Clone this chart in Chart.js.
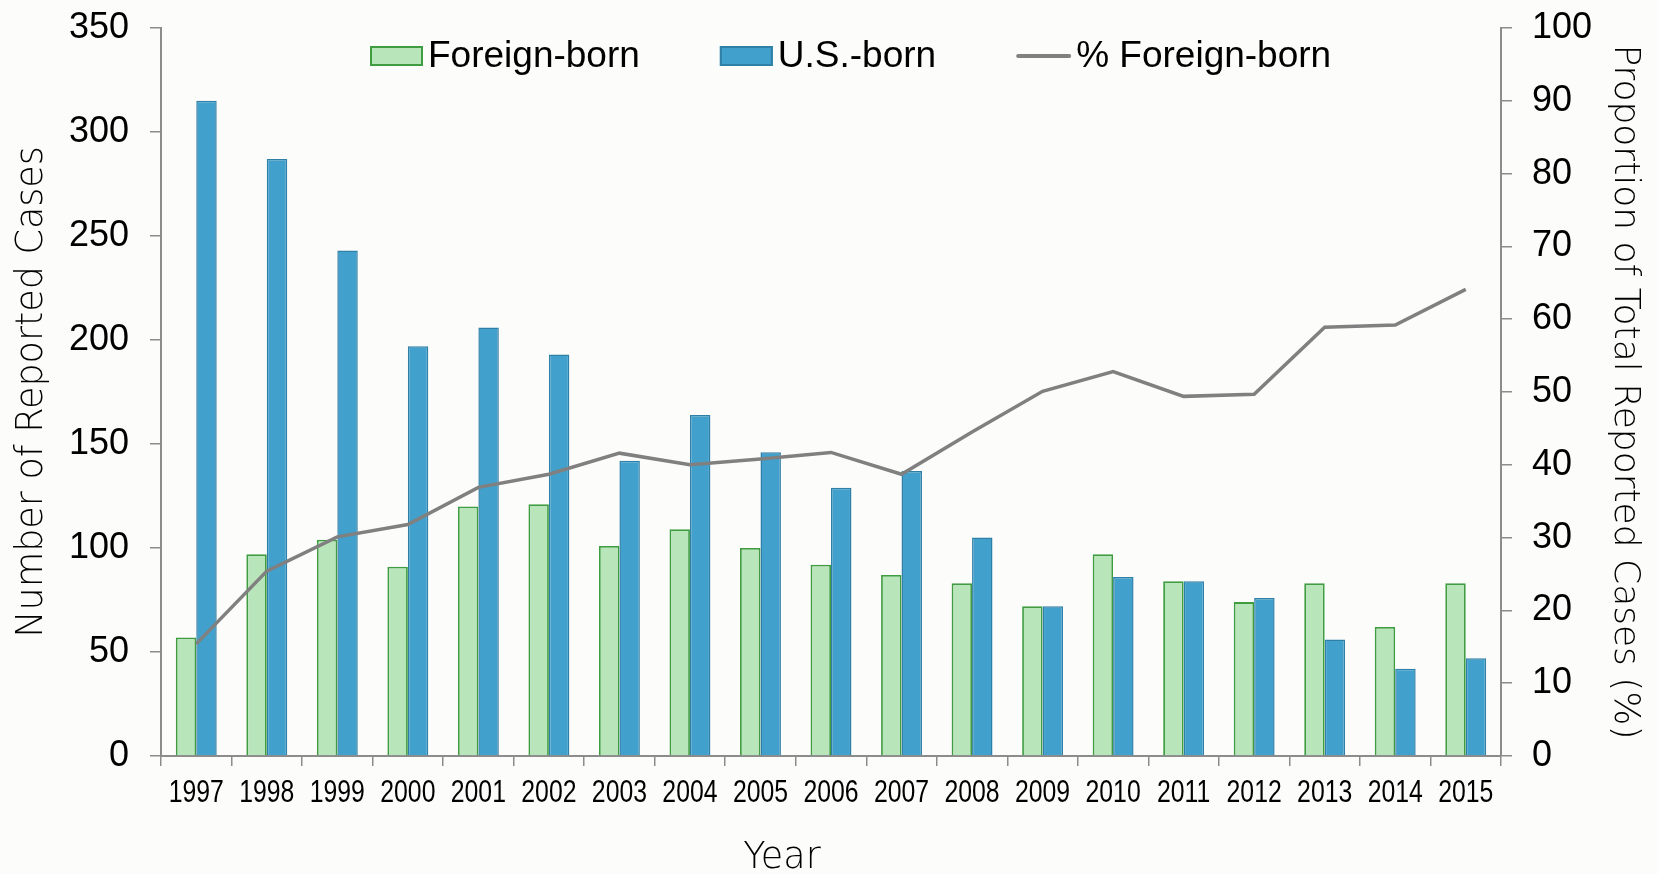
<!DOCTYPE html>
<html>
<head>
<meta charset="utf-8">
<title>Reported Cases by Origin</title>
<script src="https://cdn.jsdelivr.net/npm/chart.js@4.4.1/dist/chart.umd.min.js"></script>
<style>
    html, body { margin: 0; padding: 0; background: #fcfcfb; }
    #wrap { width: 1658px; height: 874px; position: relative; }
</style>
</head>
<body>
<div id="wrap"><canvas id="casesChart"></canvas></div>
<script>
// Chart data
const years = ['1997', '1998', '1999', '2000', '2001', '2002', '2003', '2004', '2005', '2006',
               '2007', '2008', '2009', '2010', '2011', '2012', '2013', '2014', '2015'];
const foreignBorn = [57, 97, 104, 91, 120, 121, 101, 109, 100, 92, 87, 83, 72, 97, 84, 74, 83, 62, 83];
const usBorn = [315, 287, 243, 197, 206, 193, 142, 164, 146, 129, 137, 105, 72, 86, 84, 76, 56, 42, 47];
const pctForeign = [15.4, 25.4, 30.1, 31.8, 36.9, 38.7, 41.6, 40.0, 40.8, 41.7, 38.7, 44.5, 50.1, 52.8, 49.4, 49.7, 58.9, 59.2, 64.1];
const casesTicks = { min: 0, max: 350, step: 50 };
const pctTicks = { min: 0, max: 100, step: 10 };

const AXIS_GREY = '#8c8c8c';
const TITLE_FONT = '"DejaVu Sans", "Noto Sans", sans-serif';
const LABEL_FONT = '"Liberation Sans", Arial, sans-serif';

// legend across the top of the plot, narrow year labels and the "Year" title
const topLegend = {
    id: 'topLegend',
    afterDraw(chart) {
        const ctx = chart.ctx;
        const area = chart.chartArea;
        const midY = 56;
        let x = 370;
        ctx.save();
        ctx.font = '37px ' + LABEL_FONT;
        ctx.textBaseline = 'alphabetic';
        ctx.textAlign = 'left';
        chart.data.datasets.forEach(ds => {
            if (ds.type === 'line') {
                ctx.strokeStyle = ds.borderColor;
                ctx.lineWidth = 4;
                ctx.lineCap = 'round';
                ctx.beginPath();
                ctx.moveTo(x + 2, midY);
                ctx.lineTo(x + 53, midY);
                ctx.stroke();
                x += 60;
            } else {
                ctx.fillStyle = ds.backgroundColor;
                ctx.fillRect(x, midY - 10, 53, 20);
                ctx.strokeStyle = ds.borderColor;
                ctx.lineWidth = 2;
                ctx.strokeRect(x + 1, midY - 9, 51, 18);
                x += 58;
            }
            ctx.fillStyle = '#000';
            ctx.fillText(ds.label, x, 67);
            x += ctx.measureText(ds.label).width + 80;
        });

        // year labels, condensed like the original
        const xs = chart.scales.x;
        ctx.font = '31px ' + LABEL_FONT;
        ctx.textAlign = 'center';
        ctx.textBaseline = 'middle';
        xs.ticks.forEach((t, i) => {
            ctx.save();
            ctx.translate(xs.getPixelForTick(i), xs.top + 37);
            ctx.scale(0.8, 1);
            ctx.fillText(years[i], 0, 0);
            ctx.restore();
        });

        ctx.font = '200 36.5px ' + TITLE_FONT;
        ctx.fillText('Year', (area.left + area.right) / 2 - 49, 859);
        ctx.restore();
    }
};

new Chart(document.getElementById('casesChart'), {
    type: 'bar',
    data: {
        labels: years,
        datasets: [{
            label: 'Foreign-born',
            data: foreignBorn,
            backgroundColor: '#b9e5bb',
            borderColor: '#3f9c41',
            borderWidth: 1.8,
            yAxisID: 'y',
            order: 1
        }, {
            label: 'U.S.-born',
            data: usBorn,
            backgroundColor: '#41a0cc',
            borderColor: '#2f7fa7',
            borderWidth: 1.5,
            yAxisID: 'y',
            order: 1
        }, {
            type: 'line',
            label: '% Foreign-born',
            data: pctForeign,
            borderColor: '#808080',
            backgroundColor: '#808080',
            borderWidth: 3.5,
            pointRadius: 0,
            tension: 0,
            fill: false,
            yAxisID: 'y1',
            order: 0
        }]
    },
    options: {
        responsive: true,
        maintainAspectRatio: false,
        animation: false,
        layout: { padding: { top: 28, left: 0, right: 0, bottom: 0 } },
        categoryPercentage: 0.58,
        barPercentage: 1.0,
        plugins: {
            legend: { display: false },
            tooltip: { enabled: false }
        },
        scales: {
            x: {
                grid: { display: true, offset: true, drawOnChartArea: false, drawTicks: true, tickLength: 10, color: AXIS_GREY, lineWidth: 1.5 },
                border: { display: true, color: AXIS_GREY, width: 2 },
                ticks: { display: false, autoSkip: false, maxRotation: 0 },
                afterFit: s => { s.height = 118; s.paddingLeft = 0; s.paddingRight = 0; }
            },
            y: {
                position: 'left',
                min: casesTicks.min,
                max: casesTicks.max,
                grid: { display: true, drawOnChartArea: false, drawTicks: true, tickLength: 11, color: AXIS_GREY, lineWidth: 1.5 },
                border: { display: true, color: AXIS_GREY, width: 2 },
                ticks: { stepSize: casesTicks.step, color: '#000', padding: 21,
                         font: { family: LABEL_FONT, size: 36 } },
                title: { display: true, text: 'Number of Reported Cases', color: '#000',
                         font: { family: TITLE_FONT, size: 36.5, weight: '200' }, padding: { top: 11, bottom: 0 } },
                afterFit: s => { s.width = 161; s.paddingTop = 0; s.paddingBottom = 0; }
            },
            y1: {
                position: 'right',
                min: pctTicks.min,
                max: pctTicks.max,
                grid: { display: true, drawOnChartArea: false, drawTicks: true, tickLength: 11, color: AXIS_GREY, lineWidth: 1.5 },
                border: { display: true, color: AXIS_GREY, width: 2 },
                ticks: { stepSize: pctTicks.step, color: '#000', padding: 20,
                         font: { family: LABEL_FONT, size: 36 } },
                title: { display: true, text: 'Proportion of Total Reported Cases (%)', color: '#000',
                         font: { family: TITLE_FONT, size: 36, weight: '200' }, padding: { top: 12, bottom: 0 } },
                afterFit: s => { s.width = 157; s.paddingTop = 0; s.paddingBottom = 0; }
            }
        }
    },
    plugins: [topLegend]
});
</script>
</body>
</html>
